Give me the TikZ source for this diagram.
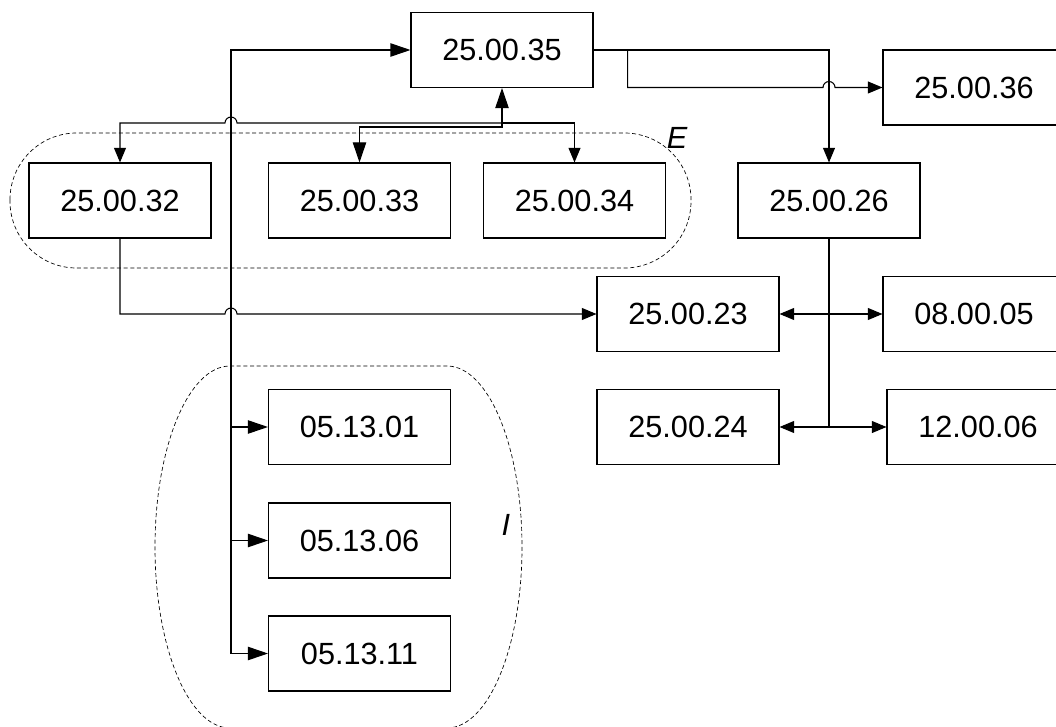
\documentclass[tikz,border=0pt]{standalone}
\usepackage{fontspec}
\setmainfont{Liberation Sans}
\usetikzlibrary{arrows.meta,calc}

\begin{document}
\begin{tikzpicture}[x=0.75pt,y=-0.75pt,line width=0.8pt,
        >={Triangle[length=11pt,width=9pt]},
        big/.style={>={Triangle[length=15pt,width=10pt]}},
        box/.style={draw,minimum width=136.5pt,minimum height=56.25pt,inner sep=0pt,font=\fontsize{23}{27}\selectfont},
        tag/.style={font=\fontsize{23}{27}\selectfont\itshape},
        group/.style={line width=0.5pt,dash pattern=on 3pt off 2pt}]
        \useasboundingbox (0,0) rectangle (1056,727);
        \clip (0,0) rectangle (1056,727);
        %% Boxes
        \node[box] (a35) at (502,50) {25.00.35};
        \node[box] (a36) at (974,87.5) {25.00.36};
        \node[box] (a32) at (120,200.5) {25.00.32};
        \node[box] (a33) at (359.5,200.5) {25.00.33};
        \node[box] (a34) at (574.5,200.5) {25.00.34};
        \node[box] (a26) at (829,200.5) {25.00.26};
        \node[box] (a23) at (688,314) {25.00.23};
        \node[box] (b05) at (974,314) {08.00.05};
        \node[box] (a24) at (688,427) {25.00.24};
        \node[box] (c06) at (978,427) {12.00.06};
        \node[box] (d01) at (359.5,427) {05.13.01};
        \node[box] (d06) at (359.5,540.5) {05.13.06};
        \node[box] (d11) at (359.5,653.5) {05.13.11};
        %% Groups
        \draw[group,rounded corners=50pt] (10,133) rectangle (691,268);
        \node[tag] (lE) at (677,138) {E};
        \draw[group] (230,366) -- (447,366)
            arc[start angle=-90,end angle=0,x radius=75,y radius=181]
            arc[start angle=0,end angle=90,x radius=75,y radius=181]
            -- (230,728)
            arc[start angle=90,end angle=180,x radius=75,y radius=181]
            arc[start angle=180,end angle=270,x radius=75,y radius=181] -- cycle;
        \node[tag] (lI) at (506,525) {I};
        %% Bus to 25.00.35
        \coordinate (ibus) at (231,427);
        \draw[big,<->] (a35.west) -| (ibus) -- (d01.west);
        \draw[big,->] (ibus) |- (d06.west);
        \draw[big,->] (ibus) |- (d11.west);
        %% Group E
        \coordinate (ejoin) at (502,123);
        \draw[big,<->] (a35.south) -- ++(0,39) -| (a33.north);
        \draw[->] (ejoin) -| (a34.north);
        \draw[->] (ejoin) -- ($(ejoin -| ibus)+(6,0)$) arc[start angle=0,end angle=-180,radius=6] -| (a32.north);
        %% Outputs of 25.00.35
        \draw[->] (a35.east) -| (a26.north);
        \draw[->] (a35.east) -- ++(34,0) |- ($(a26.north |- a36.west)+(-6,0)$) arc[start angle=-180,end angle=0,radius=6] -- (a36.west);
        %% 25.00.32 to 25.00.23
        \draw[->] (a32.south) |- ($(ibus |- a23.west)+(-6,0)$) arc[start angle=-180,end angle=0,radius=6] -- (a23.west);
        %% Below 25.00.26
        \draw (a26.south) -- (a26.south |- a24.east);
        \draw[<->] (a23.east) -- (b05.west);
        \draw[<->] (a24.east) -- (c06.west);
    \end{tikzpicture}
\end{document}
